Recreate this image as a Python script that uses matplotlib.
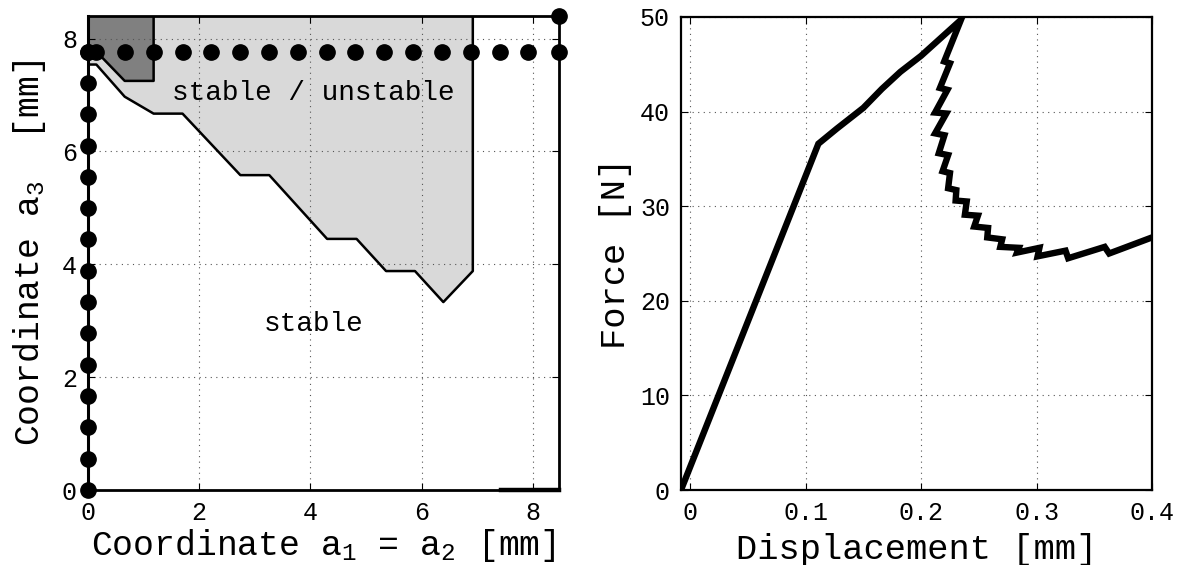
import matplotlib
matplotlib.use("Agg")
import matplotlib.pyplot as plt

plt.rcParams['font.family'] = ['Liberation Mono', 'DejaVu Sans Mono']
plt.rcParams['mathtext.fontset'] = 'custom'
plt.rcParams['mathtext.rm'] = 'Liberation Mono'
plt.rcParams['mathtext.it'] = 'Liberation Mono'

# ---- left panel: stability map ----
x_max = 8.47
y_max = 8.4

# light gray region (stable / unstable), lower boundary
light_x = [0, 0, 0.15, 0.66, 1.18, 1.70, 2.74, 3.26, 4.30, 4.83, 5.36, 5.88, 6.39, 6.92, 6.92]
light_y = [8.4, 7.54, 7.54, 6.97, 6.67, 6.67, 5.58, 5.58, 4.45, 4.45, 3.88, 3.88, 3.33, 3.88, 8.4]

# dark gray region (unstable)
dark_x = [0, 1.18, 1.18, 0.66, 0.16, 0]
dark_y = [8.4, 8.4, 7.25, 7.25, 7.76, 7.76]

# nodes along the top row and along the left edge
row_x = [0, 0.15, 0.66, 1.18, 1.70, 2.21, 2.73, 3.25, 3.77, 4.29, 4.81, 5.33, 5.85, 6.37, 6.89, 7.41, 7.92, 8.47]
row_y = 7.77
col_y = [0, 0.555, 1.11, 1.665, 2.22, 2.775, 3.33, 3.885, 4.44, 4.995, 5.55, 6.105, 6.66, 7.215, 7.77]
corner = (8.47, 8.4)
base_seg_x = [7.42, 8.47]

# ---- right panel: force-displacement ----
disp = [-0.008, 0.111, 0.127, 0.150, 0.166, 0.182, 0.200, 0.2345,
        0.220, 0.225, 0.2163, 0.2228, 0.2121, 0.2218, 0.2121, 0.2202,
        0.2153, 0.2234, 0.2186, 0.2250, 0.2234, 0.2305, 0.2299, 0.2395,
        0.2379, 0.2492, 0.2460, 0.2580, 0.2573, 0.2702, 0.2686, 0.2847,
        0.2831, 0.3025, 0.3009, 0.3251, 0.3274, 0.3590, 0.3629, 0.400]
force = [0, 36.6, 38.2, 40.4, 42.4, 44.2, 45.9, 49.7,
         45.3, 45.1, 42.5, 42.3, 39.9, 39.8, 37.7, 37.5,
         35.6, 35.4, 33.7, 33.5, 31.9, 31.7, 30.6, 30.5,
         29.1, 29.0, 27.85, 27.7, 26.7, 26.5, 25.7, 25.6,
         25.1, 25.6, 24.7, 25.3, 24.5, 25.7, 25.0, 26.7]

fig = plt.figure(figsize=(11.82, 5.65), dpi=100)
ax1 = fig.add_axes([88 / 1182, 1 - 490 / 565, (559 - 88) / 1182, (490 - 16) / 565])
ax2 = fig.add_axes([681 / 1182, 1 - 490 / 565, (1152 - 681) / 1182, (490 - 17) / 565])

grid_kw = dict(color='#555555', linestyle=(0, (1, 4)), linewidth=0.8)

# left
ax1.fill(light_x, light_y, color='#d9d9d9', zorder=1)
ax1.fill(dark_x, dark_y, color='#808080', zorder=1.1)
ax1.plot(light_x[1:], light_y[1:], color='black', lw=1.8, zorder=3)
ax1.plot(dark_x[1:5], dark_y[1:5], color='black', lw=1.8, zorder=3)
ax1.plot([0, 0], [0, y_max], color='black', lw=2.2, zorder=3, clip_on=False)
ax1.plot(base_seg_x, [0, 0], color='black', lw=3.2, zorder=3, clip_on=False)
ax1.plot(row_x, [row_y] * len(row_x), 'o', color='black', ms=11, ls='none', zorder=4, clip_on=False)
ax1.plot([0] * len(col_y), col_y, 'o', color='black', ms=11, ls='none', zorder=4, clip_on=False)
ax1.plot([corner[0]], [corner[1]], 'o', color='black', ms=11, zorder=4, clip_on=False)
ax1.text(4.05, 7.03, 'stable / unstable', ha='center', va='center', fontsize=20)
ax1.text(4.05, 2.95, 'stable', ha='center', va='center', fontsize=20)
ax1.set_xlim(0, x_max)
ax1.set_ylim(0, y_max)
ax1.set_xticks([0, 2, 4, 6, 8])
ax1.set_yticks([0, 2, 4, 6, 8])
ax1.grid(True, **grid_kw)
ax1.set_xlabel('Coordinate $\\mathrm{a_1}$ = $\\mathrm{a_2}$ [mm]', fontsize=25, labelpad=1)
ax1.set_ylabel('Coordinate $\\mathrm{a_3}$  [mm]', fontsize=25, labelpad=10)
for s in ax1.spines.values():
    s.set_linewidth(2.0)

# right
ax2.plot(disp, force, color='black', lw=4.6, solid_joinstyle='miter', zorder=3)
ax2.set_xlim(-0.008, 0.4)
ax2.set_ylim(0, 50)
ax2.set_xticks([0, 0.1, 0.2, 0.3, 0.4])
ax2.set_xticklabels(['0', '0.1', '0.2', '0.3', '0.4'])
ax2.set_yticks([0, 10, 20, 30, 40, 50])
ax2.grid(True, **grid_kw)
ax2.set_xlabel('Displacement [mm]', fontsize=25.5, labelpad=6)
ax2.set_ylabel('Force [N]', fontsize=25.5, labelpad=6)
for s in ax2.spines.values():
    s.set_linewidth(1.6)

for ax in (ax1, ax2):
    ax.tick_params(direction='in', length=5, width=0.8, top=True, right=True,
                   labelsize=18, pad=8)

fig.savefig('out.png', dpi=100)
